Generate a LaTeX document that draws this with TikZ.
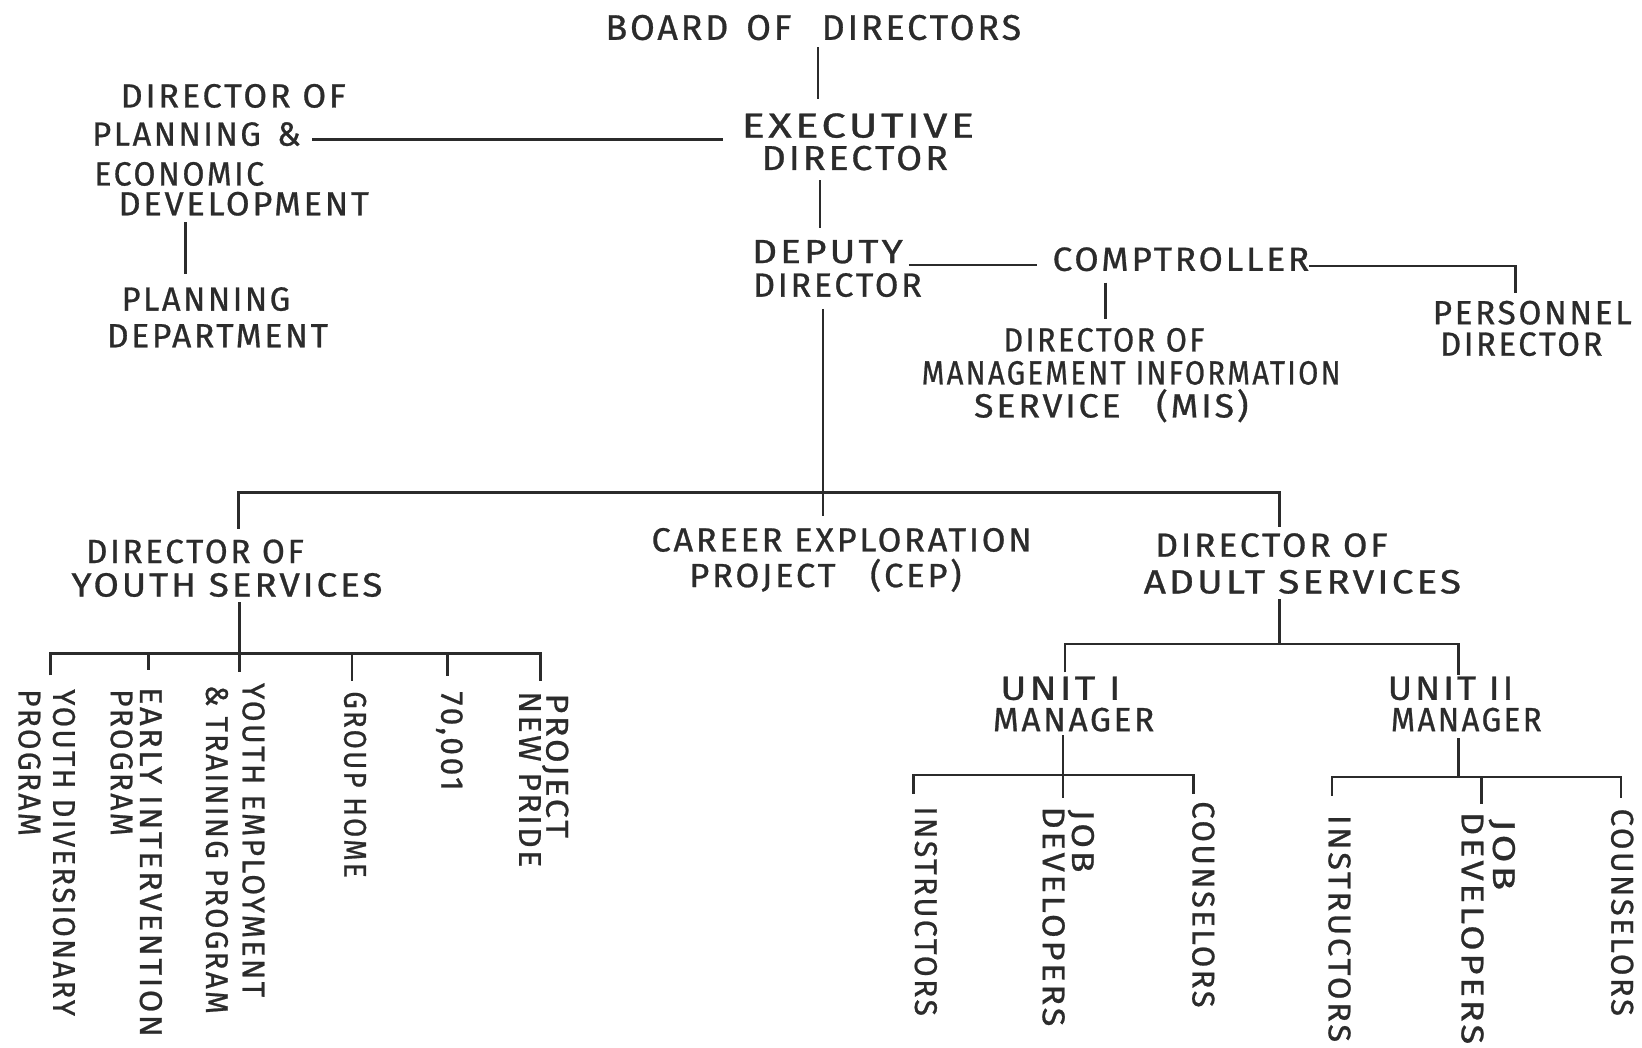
\documentclass[tikz,border=0pt]{standalone}
\usepackage{graphicx}
\usepackage{fontspec}
\setmainfont{Fira Sans}[LetterSpace=8, FakeBold=0.8]
\definecolor{ink}{HTML}{2B2B2B}
% a line of text set to a given width, with an offset from the node's left side
\newcommand\fw[2]{\resizebox{#1pt}{\height}{#2}}
\newcommand\LL[3]{\hspace*{#1pt}\fw{#2}{#3}}
\begin{document}
\begin{tikzpicture}[x=1pt,y=-1pt,
  lbl/.style={font=\fontsize{32}{32}\selectfont, text=ink, inner sep=0pt, align=left, anchor=north west},
  vlbl/.style={font=\fontsize{30}{30}\selectfont, text=ink, inner sep=0pt, align=left, rotate=-90, anchor=north west},
  ln/.style={draw=ink, line width=2.6pt}]
\fill[white] (0,0) rectangle (1568,1000);
\useasboundingbox (0,0) rectangle (1568,1000);

% ---------------- upper part
\node[lbl, font=\fontsize{34}{32}\selectfont] (board) at (578,14) {\fw{397}{BOARD\enspace OF\enspace\ DIRECTORS}};
\node[lbl, font=\fontsize{33}{31}\selectfont] (exec) at (708,108) {\LL{0}{222}{EXECUTIVE}\\\LL{19}{178}{DIRECTOR}};
\node[lbl] (dpe) at (88,80) {\LL{27}{215}{DIRECTOR OF}\\[4.5pt]\LL{0}{199}{PLANNING\enspace\&}\\[6pt]\LL{2}{162}{ECONOMIC}\\[-3.5pt]\LL{25}{239}{DEVELOPMENT}};
\node[lbl, font=\fontsize{32}{35}\selectfont] (pdept) at (102,274) {\LL{14}{161}{PLANNING}\\\LL{0}{211}{DEPARTMENT}};
\node[lbl] (deputy) at (718,229) {\LL{0}{144}{DEPUTY}\\\LL{1}{161}{DIRECTOR}};
\node[lbl] (comp) at (1005,236) {\fw{245}{COMPTROLLER}};
\node[lbl, font=\fontsize{32}{30}\selectfont] (pers) at (1368,287) {\LL{0}{190}{PERSONNEL}\\\LL{7}{155}{DIRECTOR}};
\node[lbl, font=\fontsize{32}{31.5}\selectfont] (mis) at (880,313) {\LL{78}{192}{DIRECTOR OF}\\\LL{0}{400}{MANAGEMENT INFORMATION}\\\LL{50}{262}{SERVICE\quad (MIS)}};

% ---------------- middle part
\node[lbl] (youth) at (68,515) {\LL{14}{208}{DIRECTOR OF}\\\LL{0}{297}{YOUTH SERVICES}};
\node[lbl, font=\fontsize{32}{34}\selectfont] (cep) at (622,504) {\LL{0}{363}{CAREER EXPLORATION}\\\LL{36}{260}{PROJECT\quad (CEP)}};
\node[lbl, font=\fontsize{32}{35}\selectfont] (adult) at (1092,509) {\LL{11}{222}{DIRECTOR OF}\\\LL{0}{303}{ADULT SERVICES}};
\node[lbl, font=\fontsize{32}{30}\selectfont] (unit1) at (948,646) {\LL{7}{115}{UNIT I}\\\LL{0}{154}{MANAGER}};
\node[lbl, font=\fontsize{32}{30}\selectfont] (unit2) at (1325,646) {\LL{0}{120}{UNIT II}\\\LL{3}{144}{MANAGER}};

% ---------------- youth programmes
\node[vlbl] (ydp) at (72,658) {\LL{0}{312}{YOUTH DIVERSIONARY}\\[3pt]\LL{0}{140}{PROGRAM}};
\node[vlbl] (eip) at (155,656) {\LL{0}{334}{EARLY INTERVENTION}\\[-2pt]\LL{2}{140}{PROGRAM}};
\node[vlbl] (yet) at (253,652) {\LL{0}{300}{YOUTH EMPLOYMENT}\\[5pt]\LL{2}{314}{\& TRAINING PROGRAM}};
\node[vlbl] (gh) at (350,660) {\fw{178}{GROUP HOME}};
\node[vlbl] (z70) at (442,660) {\fw{95}{70,001}};
\node[vlbl] (pnp) at (543,660) {\LL{2}{138}{PROJECT}\\[-4pt]\LL{0}{168}{NEW PRIDE}};

% ---------------- unit staff
\node[vlbl] (ins1) at (895,770) {\fw{200}{INSTRUCTORS}};
\node[vlbl] (jd1) at (1045,770) {\LL{3}{60}{JOB}\\[-2pt]\LL{0}{210}{DEVELOPERS}};
\node[vlbl] (cou1) at (1160,765) {\fw{197}{COUNSELORS}};
\node[vlbl] (ins2) at (1290,778) {\fw{217}{INSTRUCTORS}};
\node[vlbl] (jd2) at (1447,775) {\LL{7}{68}{JOB}\\\LL{0}{222}{DEVELOPERS}};
\node[vlbl] (cou2) at (1560,772) {\fw{198}{COUNSELORS}};

% ---------------- junction coordinates
\coordinate (bd1) at (781,45);   \coordinate (bd2) at (781,95);
\coordinate (pl1) at (298,133);  \coordinate (pl2) at (690,133);
\coordinate (ex1) at (783,172);  \coordinate (ex2) at (783,218);
\coordinate (pd1) at (177,212);  \coordinate (pd2) at (177,262);
\coordinate (dc1) at (868,253);  \coordinate (dc2) at (990,253);
\coordinate (cp1) at (1250,254); \coordinate (cp2) at (1447,254); \coordinate (cp3) at (1447,280);
\coordinate (cm1) at (1056,270); \coordinate (cm2) at (1056,305);
\coordinate (dv1) at (786,295);  \coordinate (dv2) at (786,493);
\coordinate (mb1) at (228,505);  \coordinate (mb2) at (228,470); \coordinate (mb3) at (1222,470); \coordinate (mb4) at (1222,503);
\coordinate (yv1) at (229,575);  \coordinate (yv2) at (229,642);
\coordinate (yb1) at (48,645);   \coordinate (yb2) at (48,624); \coordinate (yb3) at (516,624); \coordinate (yb4) at (516,650);
\coordinate (yl2a) at (142,624); \coordinate (yl2b) at (142,640);
\coordinate (yl4a) at (336,624); \coordinate (yl4b) at (336,650);
\coordinate (yl5a) at (427,624); \coordinate (yl5b) at (427,646);
\coordinate (av1) at (1222,572); \coordinate (av2) at (1222,615);
\coordinate (ab1) at (1017,642); \coordinate (ab2) at (1017,615); \coordinate (ab3) at (1393,615); \coordinate (ab4) at (1393,645);
\coordinate (u1v1) at (1015,702); \coordinate (u1v2) at (1015,762);
\coordinate (u1b1) at (872,758); \coordinate (u1b2) at (872,740); \coordinate (u1b3) at (1140,740); \coordinate (u1b4) at (1140,758);
\coordinate (u2v1) at (1393,705); \coordinate (u2v2) at (1393,742);
\coordinate (u2b1) at (1272,760); \coordinate (u2b2) at (1272,742); \coordinate (u2b3) at (1548,742); \coordinate (u2b4) at (1548,762);
\coordinate (u2m1) at (1415,742); \coordinate (u2m2) at (1415,768);

% ---------------- connectors
\draw[ln] (bd1) -- (bd2);
\draw[ln] (pl1) -- (pl2);
\draw[ln] (ex1) -- (ex2);
\draw[ln] (pd1) -- (pd2);
\draw[ln] (dc1) -- (dc2);
\draw[ln] (cp1) -- (cp2) -- (cp3);
\draw[ln] (cm1) -- (cm2);
\draw[ln] (dv1) -- (dv2);
\draw[ln] (mb1) -- (mb2) -- (mb3) -- (mb4);
\draw[ln] (yv1) -- (yv2);
\draw[ln] (yb1) -- (yb2) -- (yb3) -- (yb4);
\draw[ln] (yl2a) -- (yl2b);
\draw[ln] (yl4a) -- (yl4b);
\draw[ln] (yl5a) -- (yl5b);
\draw[ln] (av1) -- (av2);
\draw[ln] (ab1) -- (ab2) -- (ab3) -- (ab4);
\draw[ln] (u1v1) -- (u1v2);
\draw[ln] (u1b1) -- (u1b2) -- (u1b3) -- (u1b4);
\draw[ln] (u2v1) -- (u2v2);
\draw[ln] (u2b1) -- (u2b2) -- (u2b3) -- (u2b4);
\draw[ln] (u2m1) -- (u2m2);
\end{tikzpicture}
\end{document}
